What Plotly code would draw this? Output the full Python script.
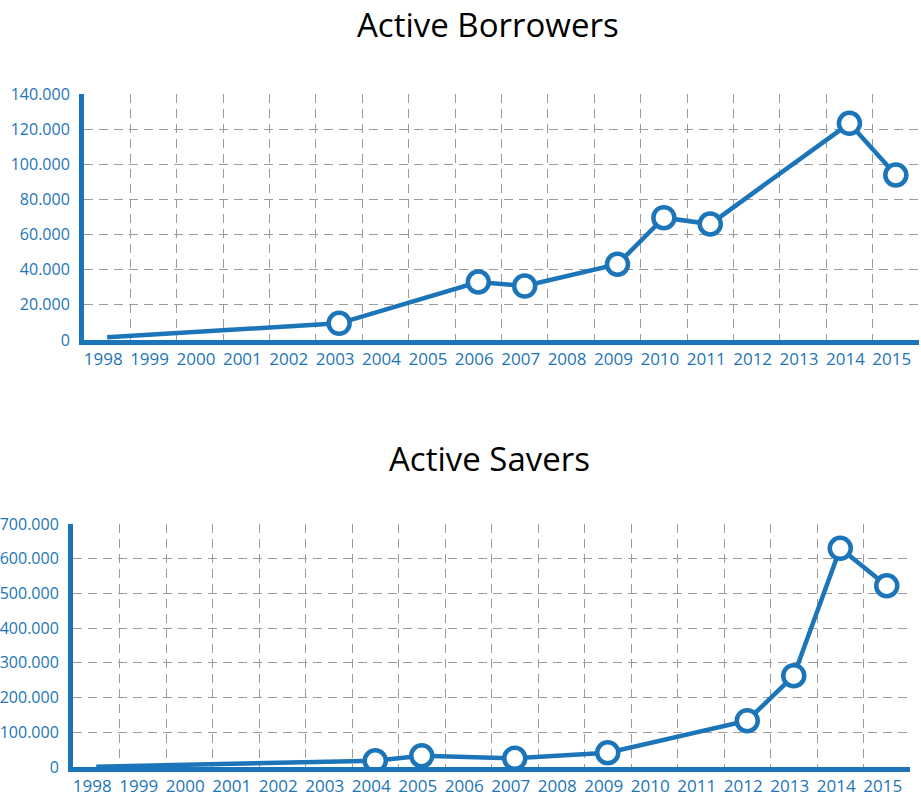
import plotly.graph_objects as go

# ---------------- data ----------------
years = list(range(1998, 2016))
year_labels = [str(y) for y in years]

borrower_years = [1998, 2003, 2006, 2007, 2009, 2010, 2011, 2014, 2015]
borrowers = [1500, 9500, 33000, 30700, 43100, 69600, 66000, 123300, 93900]
borrower_marked = [False, True, True, True, True, True, True, True, True]

saver_years = [1998, 2004, 2005, 2006, 2007, 2009, 2012, 2013, 2014, 2015]
savers = [1000, 18000, 32500, 30000, 25000, 41000, 133400, 263000, 630000, 522000]
saver_marked = [False, True, True, False, True, True, True, True, True, True]

borrower_ticks = [0, 20000, 40000, 60000, 80000, 100000, 120000, 140000]
saver_ticks = [0, 100000, 200000, 300000, 400000, 500000, 600000, 700000]

titles = ["Active Borrowers", "Active Savers"]

# ---------------- style ----------------
BLUE = "#1c75b8"
GRID = "#9b9b9b"
W, H = 921, 800
XTICKFONT = dict(family="Open Sans", size=17, color=BLUE)
YTICKFONT = dict(family="Open Sans", size=16, color=BLUE)

fig = go.Figure()


def add_series(xs, ys, marked, xa, ya):
    fig.add_trace(go.Scatter(
        x=xs, y=ys, mode="lines", xaxis=xa, yaxis=ya,
        line=dict(color=BLUE, width=4.5), hoverinfo="skip", showlegend=False))
    mx = [x for x, m in zip(xs, marked) if m]
    my = [y for y, m in zip(ys, marked) if m]
    fig.add_trace(go.Scatter(
        x=mx, y=my, mode="markers", xaxis=xa, yaxis=ya,
        marker=dict(size=21, color="white", line=dict(color=BLUE, width=4.5)),
        showlegend=False))


add_series(borrower_years, borrowers, borrower_marked, "x", "y")
add_series(saver_years, savers, saver_marked, "x2", "y2")


def xaxis_cfg(domain, anchor):
    return dict(
        domain=domain, anchor=anchor, automargin=False,
        range=[years[0] - 0.5, years[-1] + 0.5],
        tickmode="array", tickvals=years, ticktext=year_labels,
        showgrid=False, zeroline=False, ticks="",
        tickfont=XTICKFONT, ticklabelstandoff=0, ticklabelshift=-4,
        showline=True, linecolor=BLUE, linewidth=5,
        minor=dict(tick0=years[0] - 0.5, dtick=1, showgrid=True,
                   gridcolor=GRID, gridwidth=1.3, griddash="9px,6px", ticks=""),
        fixedrange=True,
    )


def yaxis_cfg(domain, anchor, ticks):
    return dict(
        domain=domain, anchor=anchor, automargin=False,
        range=[ticks[0], ticks[-1]],
        tickmode="array", tickvals=ticks, tickformat=",d",
        showgrid=True, gridcolor=GRID, gridwidth=1.3, griddash="9px,6px",
        zeroline=False, ticks="", tickfont=YTICKFONT, ticklabelstandoff=6,
        showline=True, linecolor=BLUE, linewidth=5,
        fixedrange=True,
    )


fig.update_layout(
    width=W, height=H,
    margin=dict(l=0, r=0, t=0, b=0, autoexpand=False),
    paper_bgcolor="white", plot_bgcolor="white",
    separators=",.",
    xaxis=xaxis_cfg([84 / W, 919 / W], "y"),
    yaxis=yaxis_cfg([1 - 340 / H, 1 - 94 / H], "x", borrower_ticks),
    xaxis2=xaxis_cfg([73 / W, 910 / W], "y2"),
    yaxis2=yaxis_cfg([1 - 767 / H, 1 - 524 / H], "x2", saver_ticks),
    annotations=[
        dict(text=titles[0], x=487.5 / W, y=1 - 24 / H, xref="paper", yref="paper",
             xanchor="center", yanchor="middle", showarrow=False,
             font=dict(family="Open Sans", size=33, color="black")),
        dict(text=titles[1], x=489.5 / W, y=1 - 458 / H, xref="paper", yref="paper",
             xanchor="center", yanchor="middle", showarrow=False,
             font=dict(family="Open Sans", size=33, color="black")),
    ],
)

fig.write_html("out.html", config={"displayModeBar": False},
               post_script="document.body.style.margin='0';")
